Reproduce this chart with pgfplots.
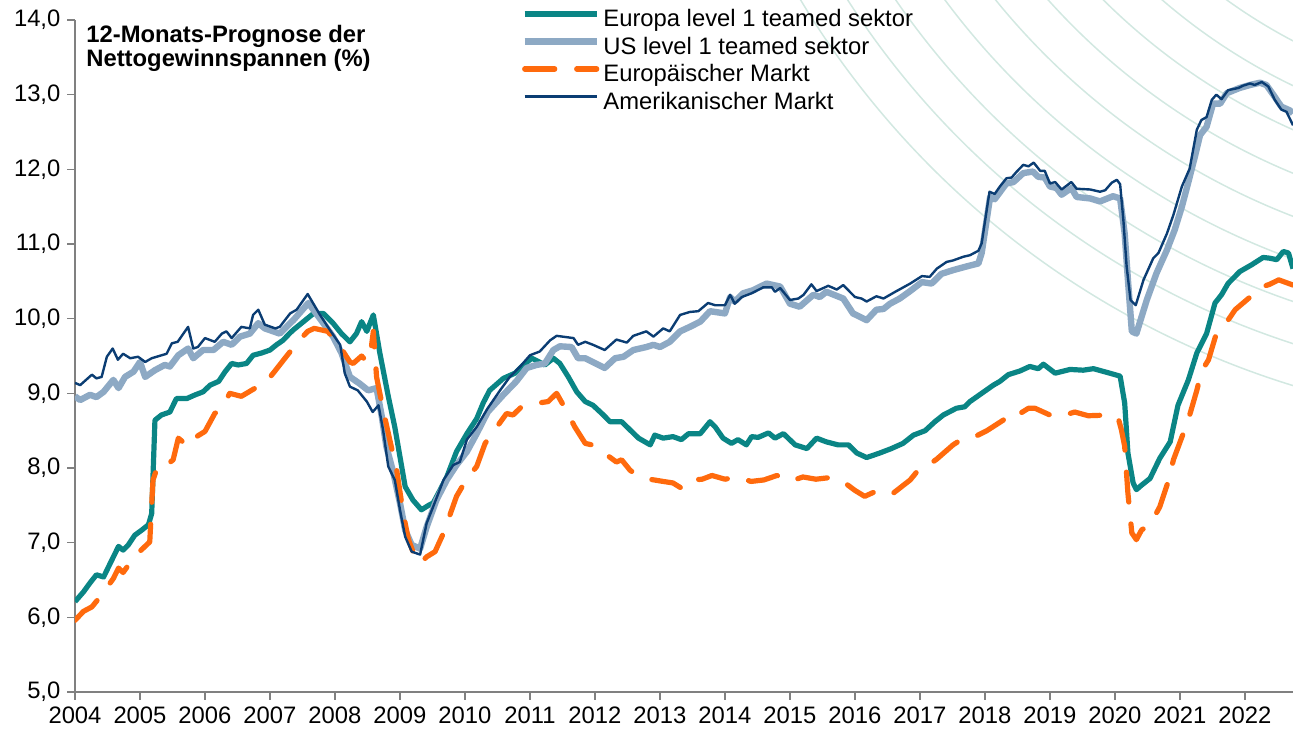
\documentclass[border=0pt]{standalone}
\usepackage{fontspec}
\setmainfont{Liberation Sans}
\usepackage{pgfplots}
\pgfplotsset{compat=1.18}
\definecolor{cteal}{HTML}{0A8585}
\definecolor{clblue}{HTML}{8DA9C4}
\definecolor{corange}{HTML}{FF6A0D}
\definecolor{cnavy}{HTML}{0B3D73}
\definecolor{carc}{HTML}{D2E8E1}
\definecolor{caxis}{HTML}{808080}
\begin{document}
\begin{tikzpicture}[font=\fontsize{11.9}{13}\selectfont]
\begin{scope}
\clip (-37.5pt,-19.5pt) rectangle (609pt,346pt);
\foreach \r in {237,257,...,437} \draw[carc, line width=0.75pt] (737.5pt,571pt) circle[radius=\r pt];
\end{scope}
\begin{axis}[
  at={(0pt,0pt)}, anchor=south west,
  scale only axis, width=609pt, height=336pt,
  xmin=2004, xmax=2022.74, ymin=5, ymax=14,
  axis lines*=left,
  axis line style={caxis, line width=0.8pt},
  tick style={caxis, line width=0.8pt},
  tick align=outside, major tick length=3.8pt,
  xtick={2004,...,2022}, ytick={5,...,14},
  /pgf/number format/assume math mode=true,
  xticklabel style={/pgf/number format/1000 sep={}},
  yticklabel style={/pgf/number format/.cd, fixed, fixed zerofill, precision=1, use comma},
  every tick label/.append style={font=\fontsize{11.9}{13}\selectfont},
  legend style={at={(0.3666,1.0149)}, anchor=north west, draw=none, fill=none,
    inner sep=0pt, outer sep=0pt,
    nodes={inner ysep=0pt, inner xsep=1.75pt, text height=8.5pt, text depth=2.5pt},
    row sep=2.75pt, font=\fontsize{11.9}{13}\selectfont},
  legend cell align=left,
  legend image code/.code={\draw[#1] (0pt,3.5pt) -- (36pt,3.5pt);},
  line join=round,
]
\addplot[cteal, line width=2.6pt] coordinates {
(2004.00,6.21)(2004.13,6.34)(2004.23,6.46)(2004.33,6.57)(2004.44,6.54)(2004.54,6.72)(2004.67,6.95)(2004.74,6.90)(2004.82,6.97)(2004.92,7.10)(2005.03,7.17)(2005.13,7.24)(2005.18,7.39)(2005.23,8.64)(2005.33,8.71)(2005.46,8.75)(2005.56,8.93)(2005.72,8.93)(2005.85,8.98)(2005.97,9.02)(2006.08,9.11)(2006.21,9.16)(2006.31,9.29)(2006.41,9.40)(2006.51,9.38)(2006.64,9.40)(2006.74,9.51)(2006.87,9.54)(2007.00,9.58)(2007.10,9.65)(2007.20,9.71)(2007.31,9.81)(2007.36,9.85)(2007.67,10.07)(2007.82,10.07)(2007.97,9.94)(2008.10,9.80)(2008.23,9.69)(2008.33,9.80)(2008.41,9.96)(2008.49,9.83)(2008.59,10.05)(2008.69,9.54)(2008.82,8.96)(2008.92,8.55)(2009.08,7.75)(2009.20,7.57)(2009.33,7.44)(2009.44,7.50)(2009.51,7.53)(2009.62,7.71)(2009.72,7.88)(2009.87,8.22)(2010.03,8.46)(2010.18,8.66)(2010.28,8.87)(2010.38,9.04)(2010.59,9.20)(2010.77,9.27)(2010.90,9.38)(2011.03,9.47)(2011.23,9.38)(2011.36,9.47)(2011.46,9.40)(2011.59,9.22)(2011.72,9.02)(2011.85,8.89)(2011.97,8.84)(2012.13,8.71)(2012.23,8.62)(2012.41,8.62)(2012.54,8.51)(2012.67,8.40)(2012.85,8.31)(2012.92,8.44)(2013.05,8.40)(2013.20,8.42)(2013.33,8.38)(2013.44,8.46)(2013.62,8.46)(2013.77,8.62)(2013.85,8.55)(2013.97,8.40)(2014.10,8.33)(2014.20,8.38)(2014.33,8.31)(2014.41,8.42)(2014.51,8.41)(2014.67,8.47)(2014.77,8.40)(2014.90,8.46)(2015.08,8.31)(2015.26,8.26)(2015.41,8.40)(2015.56,8.35)(2015.74,8.31)(2015.90,8.31)(2016.03,8.20)(2016.18,8.14)(2016.38,8.20)(2016.56,8.26)(2016.74,8.33)(2016.90,8.44)(2017.08,8.50)(2017.23,8.62)(2017.36,8.71)(2017.56,8.80)(2017.69,8.82)(2017.77,8.89)(2017.95,9.00)(2018.13,9.11)(2018.23,9.16)(2018.36,9.25)(2018.54,9.30)(2018.69,9.36)(2018.82,9.33)(2018.90,9.39)(2019.08,9.27)(2019.31,9.32)(2019.51,9.31)(2019.67,9.33)(2019.92,9.27)(2020.08,9.23)(2020.15,8.87)(2020.20,8.20)(2020.28,7.80)(2020.33,7.71)(2020.41,7.77)(2020.54,7.86)(2020.69,8.13)(2020.85,8.35)(2020.97,8.84)(2021.13,9.18)(2021.26,9.54)(2021.41,9.80)(2021.54,10.21)(2021.64,10.32)(2021.74,10.47)(2021.92,10.63)(2022.10,10.72)(2022.28,10.82)(2022.38,10.81)(2022.49,10.79)(2022.59,10.90)(2022.67,10.88)(2022.74,10.67)};
\addlegendentry{Europa level 1 teamed sektor}
\addplot[clblue, line width=3.2pt] coordinates {
(2004.00,8.96)(2004.08,8.91)(2004.23,8.98)(2004.33,8.95)(2004.44,9.02)(2004.59,9.18)(2004.67,9.07)(2004.77,9.22)(2004.90,9.29)(2005.00,9.42)(2005.08,9.22)(2005.23,9.31)(2005.38,9.38)(2005.46,9.36)(2005.59,9.51)(2005.74,9.60)(2005.82,9.47)(2005.97,9.58)(2006.13,9.58)(2006.28,9.69)(2006.41,9.65)(2006.54,9.76)(2006.69,9.80)(2006.82,9.94)(2006.92,9.87)(2007.15,9.80)(2007.31,9.94)(2007.36,9.98)(2007.59,10.21)(2007.77,10.00)(2007.97,9.76)(2008.10,9.54)(2008.23,9.22)(2008.38,9.13)(2008.51,9.04)(2008.64,9.07)(2008.72,8.69)(2008.79,8.29)(2008.90,7.93)(2009.00,7.53)(2009.08,7.17)(2009.18,6.97)(2009.31,6.92)(2009.41,7.21)(2009.56,7.57)(2009.72,7.84)(2009.87,8.04)(2010.03,8.22)(2010.18,8.46)(2010.35,8.75)(2010.59,8.98)(2010.79,9.16)(2010.95,9.34)(2011.10,9.38)(2011.23,9.40)(2011.36,9.58)(2011.46,9.63)(2011.64,9.62)(2011.74,9.47)(2011.85,9.47)(2012.15,9.34)(2012.31,9.47)(2012.44,9.49)(2012.59,9.58)(2012.79,9.62)(2012.90,9.65)(2013.00,9.62)(2013.15,9.69)(2013.31,9.83)(2013.46,9.89)(2013.62,9.96)(2013.77,10.10)(2014.00,10.07)(2014.08,10.29)(2014.15,10.23)(2014.28,10.34)(2014.43,10.38)(2014.64,10.47)(2014.85,10.43)(2015.00,10.20)(2015.15,10.16)(2015.36,10.32)(2015.46,10.29)(2015.56,10.36)(2015.82,10.27)(2015.97,10.07)(2016.18,9.98)(2016.33,10.12)(2016.44,10.13)(2016.54,10.20)(2016.69,10.27)(2016.85,10.37)(2017.03,10.49)(2017.18,10.47)(2017.33,10.60)(2017.51,10.65)(2017.72,10.70)(2017.90,10.74)(2017.95,10.88)(2018.08,11.63)(2018.15,11.60)(2018.33,11.81)(2018.44,11.83)(2018.59,11.95)(2018.74,11.97)(2018.82,11.90)(2018.92,11.89)(2019.00,11.77)(2019.10,11.75)(2019.18,11.66)(2019.33,11.75)(2019.41,11.63)(2019.62,11.61)(2019.77,11.57)(2019.97,11.64)(2020.08,11.61)(2020.15,11.14)(2020.20,10.52)(2020.26,9.83)(2020.33,9.80)(2020.49,10.25)(2020.64,10.61)(2020.80,10.92)(2020.92,11.19)(2021.03,11.50)(2021.13,11.83)(2021.23,12.17)(2021.31,12.46)(2021.41,12.57)(2021.51,12.88)(2021.62,12.88)(2021.72,13.02)(2021.92,13.09)(2022.08,13.13)(2022.23,13.16)(2022.33,13.13)(2022.46,12.97)(2022.56,12.84)(2022.69,12.79)(2022.74,12.75)};
\addlegendentry{US level 1 teamed sektor}
\addplot[corange, line width=2.6pt, line cap=round, dash pattern=on 15pt off 11pt] coordinates {
(2004.00,5.96)(2004.13,6.08)(2004.26,6.14)(2004.41,6.30)(2004.59,6.52)(2004.67,6.66)(2004.74,6.60)(2004.92,6.82)(2005.15,7.01)(2005.20,7.84)(2005.28,8.04)(2005.41,8.04)(2005.51,8.11)(2005.59,8.40)(2005.74,8.29)(2005.87,8.42)(2006.00,8.49)(2006.15,8.73)(2006.26,8.80)(2006.38,9.00)(2006.56,8.96)(2006.85,9.11)(2006.92,9.13)(2007.05,9.27)(2007.23,9.47)(2007.43,9.69)(2007.58,9.83)(2007.68,9.87)(2007.89,9.83)(2008.08,9.62)(2008.23,9.42)(2008.28,9.40)(2008.41,9.50)(2008.49,9.42)(2008.56,9.62)(2008.59,9.83)(2008.64,9.22)(2008.74,8.78)(2008.85,8.35)(2008.95,7.97)(2009.05,7.39)(2009.13,7.04)(2009.23,6.81)(2009.31,6.72)(2009.41,6.81)(2009.54,6.88)(2009.67,7.13)(2009.87,7.62)(2010.03,7.86)(2010.18,8.02)(2010.31,8.33)(2010.49,8.55)(2010.64,8.73)(2010.74,8.71)(2010.87,8.82)(2011.13,8.87)(2011.28,8.89)(2011.41,9.00)(2011.54,8.80)(2011.69,8.55)(2011.85,8.33)(2011.95,8.31)(2012.08,8.24)(2012.33,8.08)(2012.41,8.11)(2012.54,7.97)(2012.64,7.91)(2012.77,7.86)(2013.05,7.82)(2013.20,7.80)(2013.33,7.73)(2013.41,7.82)(2013.51,7.84)(2013.65,7.85)(2013.80,7.90)(2014.00,7.85)(2014.20,7.88)(2014.40,7.82)(2014.60,7.84)(2014.80,7.90)(2015.00,7.82)(2015.20,7.88)(2015.40,7.85)(2015.60,7.87)(2015.80,7.83)(2016.00,7.70)(2016.15,7.62)(2016.30,7.68)(2016.45,7.63)(2016.60,7.67)(2016.85,7.84)(2017.00,8.00)(2017.10,8.02)(2017.26,8.12)(2017.51,8.31)(2017.67,8.40)(2017.87,8.43)(2018.03,8.50)(2018.28,8.64)(2018.41,8.75)(2018.54,8.73)(2018.67,8.80)(2018.77,8.80)(2019.05,8.69)(2019.20,8.70)(2019.38,8.75)(2019.59,8.70)(2019.92,8.71)(2020.05,8.67)(2020.10,8.51)(2020.15,8.29)(2020.20,7.66)(2020.26,7.13)(2020.33,7.04)(2020.41,7.17)(2020.54,7.24)(2020.69,7.48)(2020.82,7.82)(2020.90,8.11)(2021.05,8.46)(2021.15,8.71)(2021.26,9.04)(2021.33,9.29)(2021.44,9.45)(2021.56,9.80)(2021.67,9.89)(2021.85,10.12)(2022.08,10.29)(2022.18,10.32)(2022.28,10.43)(2022.38,10.46)(2022.52,10.52)(2022.74,10.45)};
\addlegendentry{Europäischer Markt}
\addplot[cnavy, line width=1.2pt] coordinates {
(2004.00,9.14)(2004.08,9.11)(2004.26,9.25)(2004.33,9.20)(2004.41,9.22)(2004.49,9.49)(2004.58,9.60)(2004.66,9.45)(2004.74,9.53)(2004.85,9.47)(2004.97,9.49)(2005.08,9.42)(2005.18,9.47)(2005.41,9.53)(2005.49,9.67)(2005.58,9.69)(2005.74,9.89)(2005.82,9.60)(2005.89,9.62)(2006.00,9.74)(2006.15,9.69)(2006.26,9.80)(2006.33,9.83)(2006.41,9.74)(2006.56,9.89)(2006.69,9.87)(2006.74,10.05)(2006.82,10.12)(2006.92,9.92)(2007.08,9.87)(2007.15,9.89)(2007.31,10.07)(2007.41,10.12)(2007.58,10.33)(2007.77,10.05)(2007.92,9.85)(2008.08,9.65)(2008.15,9.27)(2008.23,9.09)(2008.35,9.04)(2008.49,8.89)(2008.58,8.75)(2008.67,8.84)(2008.74,8.51)(2008.82,8.02)(2008.92,7.84)(2009.00,7.44)(2009.08,7.08)(2009.18,6.88)(2009.31,6.84)(2009.41,7.26)(2009.51,7.48)(2009.67,7.84)(2009.82,8.04)(2009.92,8.08)(2010.03,8.38)(2010.18,8.55)(2010.35,8.80)(2010.54,9.04)(2010.69,9.22)(2010.85,9.36)(2011.00,9.51)(2011.15,9.56)(2011.31,9.71)(2011.41,9.77)(2011.67,9.74)(2011.74,9.65)(2011.85,9.69)(2011.97,9.65)(2012.15,9.58)(2012.33,9.72)(2012.49,9.68)(2012.59,9.77)(2012.79,9.83)(2012.90,9.76)(2013.05,9.87)(2013.15,9.83)(2013.31,10.05)(2013.46,10.09)(2013.59,10.10)(2013.74,10.21)(2013.85,10.18)(2014.00,10.18)(2014.08,10.32)(2014.15,10.20)(2014.26,10.29)(2014.41,10.34)(2014.59,10.42)(2014.72,10.42)(2014.77,10.36)(2014.85,10.41)(2015.00,10.25)(2015.13,10.27)(2015.21,10.32)(2015.33,10.46)(2015.41,10.37)(2015.59,10.44)(2015.72,10.39)(2015.82,10.45)(2016.00,10.29)(2016.10,10.27)(2016.18,10.23)(2016.33,10.30)(2016.44,10.27)(2016.62,10.36)(2016.85,10.47)(2017.03,10.57)(2017.15,10.56)(2017.26,10.67)(2017.41,10.76)(2017.51,10.78)(2017.67,10.83)(2017.77,10.85)(2017.90,10.91)(2017.95,11.01)(2018.07,11.70)(2018.15,11.67)(2018.23,11.77)(2018.33,11.88)(2018.41,11.89)(2018.49,11.97)(2018.59,12.06)(2018.67,12.04)(2018.75,12.09)(2018.85,11.98)(2018.92,11.98)(2019.00,11.81)(2019.08,11.83)(2019.18,11.73)(2019.33,11.83)(2019.41,11.74)(2019.62,11.73)(2019.77,11.70)(2019.85,11.72)(2019.95,11.82)(2020.03,11.86)(2020.08,11.80)(2020.13,11.32)(2020.18,10.70)(2020.24,10.25)(2020.32,10.18)(2020.44,10.52)(2020.59,10.81)(2020.67,10.88)(2020.80,11.14)(2020.90,11.39)(2021.03,11.77)(2021.15,12.01)(2021.26,12.53)(2021.33,12.66)(2021.41,12.70)(2021.49,12.93)(2021.56,13.00)(2021.64,12.94)(2021.74,13.06)(2021.90,13.09)(2021.97,13.12)(2022.08,13.15)(2022.15,13.13)(2022.26,13.17)(2022.36,13.11)(2022.46,12.93)(2022.56,12.80)(2022.64,12.77)(2022.74,12.59)};
\addlegendentry{Amerikanischer Markt}
\end{axis}
\node[anchor=north west, align=left, inner sep=0pt, font=\bfseries\fontsize{11.9}{12}\selectfont] at (5.5pt,333.5pt) {12-Monats-Prognose der\\Nettogewinnspannen (\%)};
\pgfresetboundingbox
\useasboundingbox (-37.5pt,-19.5pt) rectangle (609pt,346pt);
\end{tikzpicture}
\end{document}
